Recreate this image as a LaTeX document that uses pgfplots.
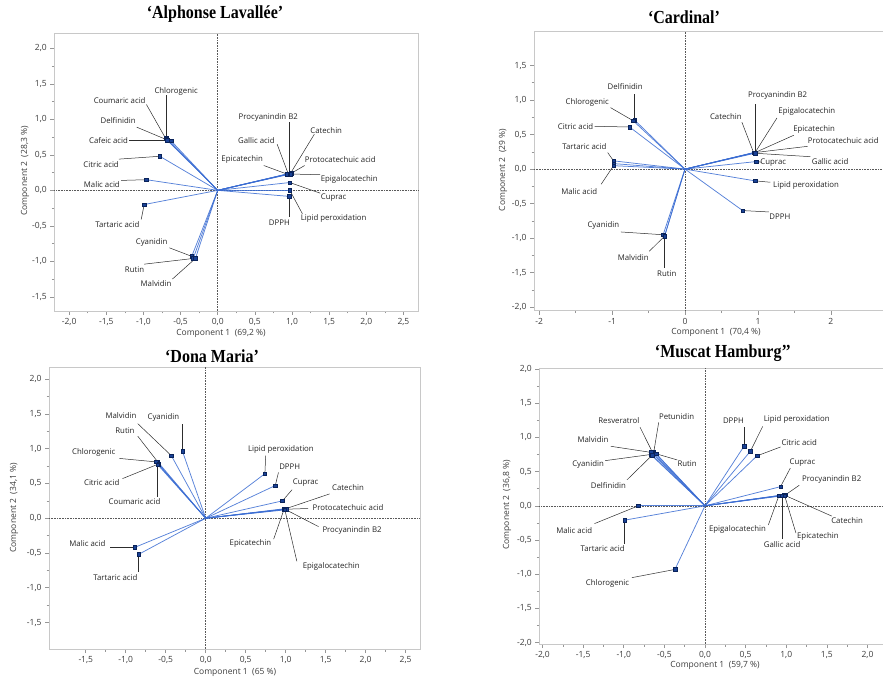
\documentclass[border=0pt]{standalone}
\usepackage{pgfplots}
\pgfplotsset{compat=1.18}
\usepackage{fontspec}
\setmainfont{Open Sans}
\newfontfamily\titlefont{Liberation Serif}

\definecolor{vecblue}{RGB}{58,108,210}
\definecolor{mkfill}{RGB}{25,65,150}
\definecolor{mkdraw}{RGB}{10,35,90}
\definecolor{leadc}{RGB}{45,45,45}
\definecolor{framec}{RGB}{200,200,200}
\definecolor{tickc}{RGB}{150,150,150}
\definecolor{ticklab}{RGB}{60,60,60}
\definecolor{labc}{RGB}{35,35,35}

\pgfplotsset{
  bip/.style={
    scale only axis, anchor=south west, clip=false,
    axis line style={framec, line width=0.9pt},
    tick align=outside, tick pos=left,
    major tick length=4pt, minor tick length=2.5pt, minor tick num=1,
    every tick/.style={tickc, line width=0.6pt},
    tick label style={font=\fontsize{8.5}{9}\selectfont, text=ticklab},
    /pgf/number format/use comma,
    /pgf/number format/fixed,
    /pgf/number format/fixed zerofill,
    /pgf/number format/precision=1,
    /pgf/number format/assume math mode=true,
  },
  vec/.style={vecblue, line width=0.75pt, opacity=0.85, no marks},
  lead/.style={leadc, line width=0.5pt, no marks},
  mk/.style={only marks, mark=square*, mark size=1.8pt, mark options={fill=mkfill, draw=mkdraw, line width=0.4pt}},
}
\tikzset{
  lab/.style={font=\fontsize{7.8}{8}\selectfont, text=labc, inner sep=0pt},
  axl/.style={font=\fontsize{8.5}{9}\selectfont, text=ticklab},
  ttl/.style={font=\titlefont\bfseries\fontsize{16}{18}\selectfont, yscale=1.15},
  zl/.style={densely dotted, black!65, line width=0.6pt},
}

% \vp{x}{y}{leader end x}{leader end y}{label x}{label y}{name}
\newcommand\vpvec[7]{\addplot[vec] coordinates {(0,0) (#1,#2)};}
\newcommand\vplead[7]{\addplot[lead] coordinates {(#1,#2) (#3,#4)};}
\newcommand\vpmark[7]{\addplot[mk] coordinates {(#1,#2)};\node[lab] at (axis cs:#5,#6) {#7};}

\newcommand\dataA{%
\vp{-0.69}{0.74}{-0.69}{1.34}{-0.56}{1.40}{Chlorogenic}
\vp{-0.70}{0.73}{-0.96}{1.21}{-1.32}{1.27}{Coumaric acid}
\vp{-0.68}{0.71}{-1.09}{0.89}{-1.34}{0.99}{Delfinidin}
\vp{-0.63}{0.70}{-1.19}{0.70}{-1.47}{0.70}{Cafeic acid}
\vp{-0.78}{0.48}{-1.33}{0.44}{-1.57}{0.37}{Citric acid}
\vp{-0.96}{0.15}{-1.30}{0.14}{-1.56}{0.08}{Malic acid}
\vp{-0.99}{-0.20}{-1.03}{-0.41}{-1.35}{-0.48}{Tartaric acid}
\vp{-0.35}{-0.93}{-0.65}{-0.81}{-0.89}{-0.73}{Cyanidin}
\vp{-0.33}{-0.96}{-0.99}{-1.04}{-1.12}{-1.12}{Rutin}
\vp{-0.30}{-0.96}{-0.61}{-1.25}{-0.83}{-1.32}{Malvidin}
\vp{0.96}{0.23}{0.96}{0.96}{0.68}{1.03}{Procyanindin B2}
\vp{0.98}{0.24}{1.30}{0.79}{1.46}{0.84}{Catechin}
\vp{0.95}{0.23}{0.80}{0.65}{0.52}{0.70}{Gallic acid}
\vp{0.93}{0.23}{0.62}{0.35}{0.33}{0.44}{Epicatechin}
\vp{0.99}{0.24}{1.17}{0.35}{1.65}{0.43}{Protocatechuic acid}
\vp{0.98}{0.23}{1.38}{0.22}{1.77}{0.15}{Epigalocatechin}
\vp{0.97}{0.11}{1.38}{-0.04}{1.56}{-0.10}{Cuprac}
\vp{0.97}{0.00}{1.14}{-0.33}{1.56}{-0.40}{Lipid peroxidation}
\vp{0.96}{-0.085}{0.96}{-0.38}{0.83}{-0.46}{DPPH}
}
\newcommand\dataB{%
\vp{-0.69}{0.71}{-0.69}{1.09}{-0.82}{1.20}{Delfinidin}
\vp{-0.71}{0.70}{-1.02}{0.89}{-1.34}{0.97}{Chlorogenic}
\vp{-0.76}{0.61}{-1.24}{0.62}{-1.50}{0.62}{Citric acid}
\vp{-0.98}{0.12}{-1.06}{0.24}{-1.38}{0.33}{Tartaric acid}
\vp{-0.98}{0.08}{-0.98}{0.08}{-0.98}{0.08}{}
\vp{-0.98}{0.05}{-1.15}{-0.22}{-1.45}{-0.33}{Malic acid}
\vp{-0.30}{-0.95}{-0.88}{-0.91}{-1.12}{-0.82}{Cyanidin}
\vp{-0.28}{-0.97}{-0.49}{-1.19}{-0.71}{-1.28}{Malvidin}
\vp{-0.28}{-0.97}{-0.28}{-1.43}{-0.25}{-1.52}{Rutin}
\vp{0.96}{0.24}{0.96}{0.95}{1.27}{1.06}{Procyanindin B2}
\vp{0.94}{0.24}{0.78}{0.68}{0.56}{0.76}{Catechin}
\vp{0.96}{0.24}{1.26}{0.74}{1.67}{0.83}{Epigalocatechin}
\vp{0.96}{0.24}{1.49}{0.49}{1.77}{0.57}{Epicatechin}
\vp{0.96}{0.24}{1.68}{0.33}{2.17}{0.42}{Protocatechuic acid}
\vp{0.96}{0.23}{1.72}{0.18}{1.99}{0.11}{Gallic acid}
\vp{0.98}{0.11}{1.05}{0.10}{1.21}{0.09}{Cuprac}
\vp{0.96}{-0.17}{1.17}{-0.19}{1.66}{-0.23}{Lipid peroxidation}
\vp{0.79}{-0.60}{1.15}{-0.62}{1.30}{-0.69}{DPPH}
}
\newcommand\dataC{%
\vp{-0.43}{0.90}{-0.85}{1.36}{-1.06}{1.47}{Malvidin}
\vp{-0.29}{0.96}{-0.29}{1.35}{-0.53}{1.45}{Cyanidin}
\vp{-0.60}{0.81}{-0.85}{1.18}{-1.01}{1.26}{Rutin}
\vp{-0.62}{0.81}{-1.08}{0.86}{-1.40}{0.95}{Chlorogenic}
\vp{-0.59}{0.78}{-1.04}{0.57}{-1.30}{0.51}{Citric acid}
\vp{-0.60}{0.77}{-0.60}{0.31}{-0.89}{0.24}{Coumaric acid}
\vp{-0.89}{-0.42}{-1.20}{-0.42}{-1.48}{-0.37}{Malic acid}
\vp{-0.84}{-0.52}{-0.84}{-0.77}{-1.13}{-0.85}{Tartaric acid}
\vp{0.74}{0.64}{0.75}{0.90}{0.94}{0.99}{Lipid peroxidation}
\vp{0.87}{0.47}{0.91}{0.66}{1.05}{0.74}{DPPH}
\vp{0.96}{0.25}{1.08}{0.41}{1.25}{0.51}{Cuprac}
\vp{1.01}{0.14}{1.55}{0.35}{1.78}{0.44}{Catechin}
\vp{1.01}{0.13}{1.28}{0.14}{1.78}{0.16}{Protocatechuic acid}
\vp{0.99}{0.13}{1.41}{-0.12}{1.83}{-0.17}{Procyanindin B2}
\vp{0.98}{0.13}{0.85}{-0.30}{0.56}{-0.36}{Epicatechin}
\vp{0.99}{0.12}{1.14}{-0.62}{1.57}{-0.69}{Epigalocatechin}
}
\newcommand\dataD{%
\vp{-0.63}{0.79}{-0.57}{1.22}{-0.35}{1.31}{Petunidin}
\vp{-0.65}{0.79}{-0.80}{1.15}{-1.06}{1.25}{Resveratrol}
\vp{-0.66}{0.78}{-1.16}{0.87}{-1.38}{0.97}{Malvidin}
\vp{-0.67}{0.75}{-1.23}{0.66}{-1.44}{0.60}{Cyanidin}
\vp{-0.65}{0.74}{-0.96}{0.38}{-1.19}{0.30}{Delfinidin}
\vp{-0.60}{0.76}{-0.34}{0.67}{-0.22}{0.61}{Rutin}
\vp{-0.82}{0.00}{-1.36}{-0.26}{-1.61}{-0.36}{Malic acid}
\vp{-0.99}{-0.21}{-0.99}{-0.56}{-1.26}{-0.63}{Tartaric acid}
\vp{-0.37}{-0.93}{-0.90}{-1.05}{-1.20}{-1.14}{Chlorogenic}
\vp{0.48}{0.87}{0.48}{1.15}{0.35}{1.24}{DPPH}
\vp{0.56}{0.80}{0.71}{1.16}{1.13}{1.26}{Lipid peroxidation}
\vp{0.64}{0.73}{0.93}{0.86}{1.16}{0.93}{Citric acid}
\vp{0.93}{0.28}{1.05}{0.55}{1.20}{0.63}{Cuprac}
\vp{0.99}{0.16}{1.16}{0.30}{1.56}{0.38}{Procyanindin B2}
\vp{0.97}{0.16}{1.56}{-0.15}{1.75}{-0.21}{Catechin}
\vp{0.91}{0.15}{0.78}{-0.28}{0.40}{-0.35}{Epigalocatechin}
\vp{0.95}{0.15}{0.95}{-0.48}{0.95}{-0.56}{Gallic acid}
\vp{0.98}{0.15}{1.12}{-0.40}{1.39}{-0.45}{Epicatechin}
}
\newcommand\drawall[1]{%
  \draw[zl] ({axis cs:0,0}|-{rel axis cs:0,0}) -- ({axis cs:0,0}|-{rel axis cs:0,1});
  \draw[zl] ({axis cs:0,0}-|{rel axis cs:0,0}) -- ({axis cs:0,0}-|{rel axis cs:1,0});
  \let\vp\vpvec #1%
  \let\vp\vplead #1%
  \let\vp\vpmark #1%
}

\begin{document}
\begin{tikzpicture}[x=1pt,y=1pt]
% Panel A
\begin{axis}[bip, at={(54.3pt,370pt)}, width=364pt, height=277.5pt,
  xmin=-2.20, xmax=2.70, ymin=-1.70, ymax=2.21,
  xtick={-2,-1.5,-1,-0.5,0,0.5,1,1.5,2,2.5},
  ytick={-1.5,-1,-0.5,0,0.5,1,1.5,2}]
\drawall{\dataA}
\end{axis}
% Panel B
\begin{axis}[bip, at={(534pt,370.3pt)}, width=364pt, height=279pt,
  xmin=-2.07, xmax=2.92, ymin=-2.05, ymax=1.99,
  xtick={-2,-1,0,1,2}, xticklabels={-2,-1,0,1,2},
  ytick={-2,-1.5,-1,-0.5,0,0.5,1,1.5}]
\drawall{\dataB}
\end{axis}
% Panel C
\begin{axis}[bip, at={(49pt,32pt)}, width=371pt, height=281.7pt,
  xmin=-1.96, xmax=2.68, ymin=-1.88, ymax=2.17,
  xtick={-1.5,-1,-0.5,0,0.5,1,1.5,2,2.5},
  ytick={-1.5,-1,-0.5,0,0.5,1,1.5,2}]
\drawall{\dataC}
\end{axis}
% Panel D
\begin{axis}[bip, at={(539.3pt,37pt)}, width=351.7pt, height=275.7pt,
  xmin=-2.04, xmax=2.29, ymin=-2.02, ymax=2.01,
  xtick={-2,-1.5,-1,-0.5,0,0.5,1,1.5,2},
  ytick={-2,-1.5,-1,-0.5,0,0.5,1,1.5,2}]
\drawall{\dataD}
\end{axis}
% titles
\node[ttl] at (215pt,667pt) {‘Alphonse Lavallée’};
\node[ttl] at (684pt,664pt) {‘Cardinal’};
\node[ttl] at (212pt,325pt) {‘Dona Maria’};
\node[ttl] at (723pt,328pt) {‘Muscat Hamburg’’};
% axis labels
\node[axl] at (221pt,348pt) {Component 1\ \ (69,2 \%)};
\node[axl, rotate=90] at (25pt,510pt) {Component 2\ \ (28,3 \%)};
\node[axl] at (716pt,349pt) {Component 1\ \ (70,4 \%)};
\node[axl, rotate=90] at (503pt,511pt) {Component 2\ \ (29 \%)};
\node[axl] at (235pt,9pt) {Component 1\ \ (65 \%)};
\node[axl, rotate=90] at (14pt,173pt) {Component 2\ \ (34,1 \%)};
\node[axl] at (715pt,16pt) {Component 1\ \ (59,7 \%)};
\node[axl, rotate=90] at (507pt,176pt) {Component 2\ \ (36,8 \%)};
\pgfresetboundingbox
\path (0,0) rectangle (883pt,681pt);
\end{tikzpicture}
\end{document}
